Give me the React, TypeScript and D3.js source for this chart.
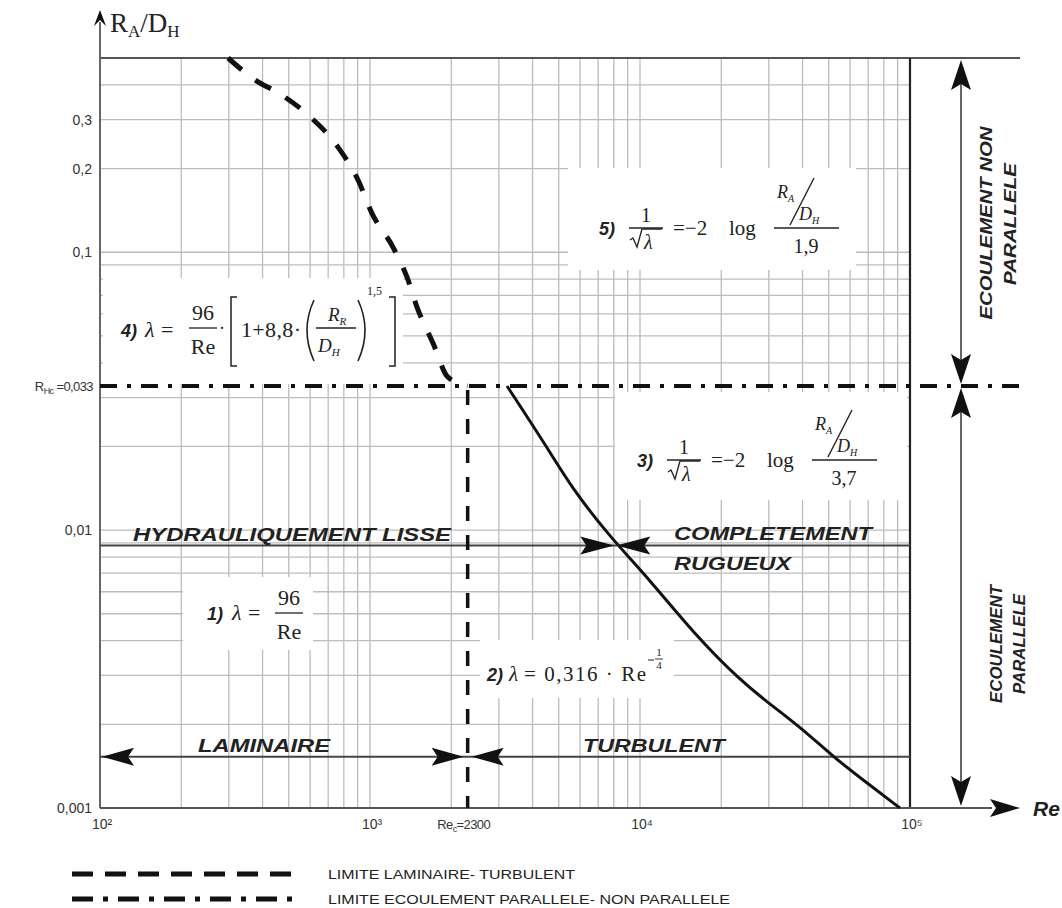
import * as d3 from 'd3'

// axis ticks
const xTickValues = [1e2, 1e3, 1e4, 1e5]
const xTickLabels = ['10²', '10³', '10⁴', '10⁵']
const yTickValues = [0.3, 0.2, 0.1, 0.01, 0.001]
const yTickLabels = ['0,3', '0,2', '0,1', '0,01', '0,001']

// limits
const reCritical = 2300
const rHc = 0.033
const roughLevel = 0.0088
const regimeLevel = 0.00153

// laminar / turbulent limit (dashed curve)
const laminarRe = [298, 385, 452, 589, 761, 903, 1017, 1216, 1371, 1493, 1711, 1944, 2300]
const laminarRa = [0.5, 0.41, 0.377, 0.312, 0.239, 0.182, 0.138, 0.1044, 0.0814, 0.0635, 0.0471, 0.0355, 0.033]

// smooth / rough limit (solid curve)
const roughRe = [3217, 4524, 5551, 7745, 10890, 16260, 23440, 29510, 39140, 51860, 69300, 91800]
const roughRa = [0.033, 0.0199, 0.0143, 0.00944, 0.00661, 0.00412, 0.00289, 0.00241, 0.00196, 0.00153, 0.00123, 0.001]

const W = 1062
const H = 908
const SANS = '"Liberation Sans", Arial, sans-serif'
const SERIF = '"Liberation Serif", "Times New Roman", serif'

const x = d3.scaleLog().domain([1e2, 1e5]).range([100, 910])
const y = d3.scaleLog().domain([0.001, 0.5]).range([808, 58])

function head(tx: number, ty: number, dir: 'up' | 'down' | 'left' | 'right', len = 30, half = 9) {
    let pts: number[][] = []
    if (dir === 'up') pts = [[tx, ty], [tx - half, ty + len], [tx, ty + len - 6], [tx + half, ty + len]]
    if (dir === 'down') pts = [[tx, ty], [tx - half, ty - len], [tx, ty - len + 6], [tx + half, ty - len]]
    if (dir === 'left') pts = [[tx, ty], [tx + len, ty - half], [tx + len - 6, ty], [tx + len, ty + half]]
    if (dir === 'right') pts = [[tx, ty], [tx - len, ty - half], [tx - len + 6, ty], [tx - len, ty + half]]
    return <polygon points={pts.map(p => p.join(',')).join(' ')} fill="#111" />
}

// sqrt(lambda) fraction used in formulas 3 and 5
function InvSqrt({ cx, cy }: { cx: number, cy: number }) {
    return (
        <g fontFamily={SERIF} fontSize={20} fill="#222">
            <text x={cx} y={cy - 6} textAnchor="middle">1</text>
            <line x1={cx - 17} x2={cx + 17} y1={cy} y2={cy} stroke="#222" strokeWidth={1.3} />
            <path d={`M${cx - 16},${cy + 12} l3,-2 l4,9 l5,-18 h20`} fill="none" stroke="#222" strokeWidth={1.3} />
            <text x={cx - 2} y={cy + 21} fontStyle="italic">λ</text>
        </g>
    )
}

function LogFormula({ left, cy, num, denom }: { left: number, cy: number, num: string, denom: string }) {
    return (
        <g fill="#222">
            <text x={left} y={cy + 7} fontFamily={SANS} fontWeight="bold" fontStyle="italic" fontSize={18}>{num}</text>
            <InvSqrt cx={left + 47} cy={cy} />
            <text x={left + 74} y={cy + 7} fontFamily={SERIF} fontSize={21}>=−2</text>
            <text x={left + 130} y={cy + 7} fontFamily={SERIF} fontSize={21}>log</text>
            <text x={left + 178} y={cy - 30} fontFamily={SERIF} fontStyle="italic" fontSize={18}>R<tspan fontSize={10} dy={4}>A</tspan></text>
            <line x1={left + 215} y1={cy - 50} x2={left + 191} y2={cy - 3} stroke="#222" strokeWidth={1.4} />
            <text x={left + 200} y={cy - 8} fontFamily={SERIF} fontStyle="italic" fontSize={18}>D<tspan fontSize={10} dy={4}>H</tspan></text>
            <line x1={left + 175} x2={left + 240} y1={cy} y2={cy} stroke="#222" strokeWidth={1.3} />
            <text x={left + 207} y={cy + 25} textAnchor="middle" fontFamily={SERIF} fontSize={20}>{denom}</text>
        </g>
    )
}

export default function App() {
    const xGrid = x.ticks()
    const yGrid = y.ticks()
    const laminarLine = d3.line<number>().x(d => x(d)).y((_, i) => y(laminarRa[i])).curve(d3.curveMonotoneX)
    const roughLine = d3.line<number>().x(d => x(d)).y((_, i) => y(roughRa[i])).curve(d3.curveBasis)

    const x0 = x.range()[0]
    const x1 = x.range()[1]
    const yTop = y.range()[1]
    const yBot = y.range()[0]
    const xc = x(reCritical)
    const yHc = y(rHc)
    const yRough = y(roughLevel)
    const yReg = y(regimeLevel)
    // where the solid curve crosses the smooth/rough level
    const xCross = x(8100)

    // white boxes behind the formulas (hide the grid there)
    const boxes = [
        [103, 278, 300, 106],
        [183, 577, 130, 73],
        [568, 168, 288, 102],
        [615, 392, 292, 108],
        [480, 640, 194, 58],
    ]

    return (
        <svg width={W} height={H} style={{ position: 'absolute', left: 0, top: 0, background: '#fff' }}>
            {/* grid */}
            <g stroke="#bcbcbc" strokeWidth={1.3}>
                {xGrid.map((d, i) => <line key={'gx' + i} x1={x(d)} x2={x(d)} y1={yTop} y2={yBot} />)}
                {yGrid.map((d, i) => <line key={'gy' + i} x1={x0} x2={x1} y1={y(d)} y2={y(d)} />)}
            </g>
            {boxes.map((b, i) => <rect key={'b' + i} x={b[0]} y={b[1]} width={b[2]} height={b[3]} fill="#fff" />)}

            {/* frame */}
            <line x1={x0} x2={1020} y1={yTop} y2={yTop} stroke="#555" strokeWidth={2} />
            <line x1={x1} x2={x1} y1={yTop} y2={yBot} stroke="#222" strokeWidth={2.2} />
            <line x1={x0} x2={x0} y1={yBot} y2={22} stroke="#666" strokeWidth={2} />
            {head(x0, 10, 'up', 16, 6)}
            <line x1={x0} x2={992} y1={yBot} y2={yBot} stroke="#555" strokeWidth={2} />
            {head(1020, yBot, 'right', 30, 9)}

            {/* smooth / rough level and regime level */}
            <line x1={x0} x2={x1} y1={yRough} y2={yRough} stroke="#444" strokeWidth={2} />
            <line x1={x0} x2={x1} y1={yReg} y2={yReg} stroke="#444" strokeWidth={2} />
            {head(xCross - 1, yRough, 'right', 34, 9)}
            {head(xCross + 1, yRough, 'left', 34, 9)}
            {head(x0 + 2, yReg, 'left', 32, 9)}
            {head(xc - 4, yReg, 'right', 32, 9)}
            {head(xc + 4, yReg, 'left', 32, 9)}

            {/* limits */}
            <line x1={x0} x2={1020} y1={yHc} y2={yHc} stroke="#111" strokeWidth={4} strokeDasharray="17 10 4 10" />
            <line x1={xc} x2={xc} y1={yHc + 4} y2={yBot} stroke="#111" strokeWidth={3.5} strokeDasharray="15 14" />
            <path d={laminarLine(laminarRe) || ''} fill="none" stroke="#111" strokeWidth={5} strokeDasharray="18 17" />
            <path d={roughLine(roughRe) || ''} fill="none" stroke="#111" strokeWidth={3} />

            {/* right annotations */}
            <line x1={961} x2={961} y1={yTop + 20} y2={yHc - 20} stroke="#666" strokeWidth={2} />
            {head(961, yTop + 2, 'up', 30, 10)}
            {head(961, yHc - 2, 'down', 30, 10)}
            <line x1={961} x2={961} y1={yHc + 20} y2={yBot - 20} stroke="#666" strokeWidth={2} />
            {head(961, yHc + 2, 'up', 30, 10)}
            {head(961, yBot - 2, 'down', 30, 10)}
            <g fontFamily={SANS} fontWeight="bold" fontStyle="italic" fontSize={17} fill="#222" textAnchor="middle">
                <text transform="translate(992,223) rotate(-90)" textLength={193} lengthAdjust="spacingAndGlyphs">ECOULEMENT NON</text>
                <text transform="translate(1016,224) rotate(-90)" textLength={122} lengthAdjust="spacingAndGlyphs">PARALLELE</text>
                <text transform="translate(1002,644) rotate(-90)" textLength={118} lengthAdjust="spacingAndGlyphs">ECOULEMENT</text>
                <text transform="translate(1025,644) rotate(-90)" textLength={100} lengthAdjust="spacingAndGlyphs">PARALLELE</text>
            </g>

            {/* region labels */}
            <g fontFamily={SANS} fontWeight="bold" fontStyle="italic" fontSize={19} fill="#222">
                <text x={133} y={541} textLength={318} lengthAdjust="spacingAndGlyphs">HYDRAULIQUEMENT LISSE</text>
                <text x={674} y={540} textLength={198} lengthAdjust="spacingAndGlyphs">COMPLETEMENT</text>
                <text x={674} y={570} textLength={117} lengthAdjust="spacingAndGlyphs">RUGUEUX</text>
                <text x={198} y={752} textLength={132} lengthAdjust="spacingAndGlyphs">LAMINAIRE</text>
                <text x={583} y={752} textLength={142} lengthAdjust="spacingAndGlyphs">TURBULENT</text>
            </g>

            {/* formula 4 */}
            <g fill="#222">
                <text x={121} y={337} fontFamily={SANS} fontWeight="bold" fontStyle="italic" fontSize={18}>4)</text>
                <text x={145} y={337} fontFamily={SERIF} fontStyle="italic" fontSize={22}>λ</text>
                <text x={161} y={337} fontFamily={SERIF} fontSize={22}>=</text>
                <text x={203} y={320} textAnchor="middle" fontFamily={SERIF} fontSize={22}>96</text>
                <line x1={189} x2={217} y1={328} y2={328} stroke="#222" strokeWidth={1.3} />
                <text x={203} y={354} textAnchor="middle" fontFamily={SERIF} fontSize={22}>Re</text>
                <text x={219} y={334} fontFamily={SERIF} fontSize={18}>·</text>
                <path d="M237,297 h-6 v69 h6" fill="none" stroke="#222" strokeWidth={1.5} />
                <text x={241} y={337} fontFamily={SERIF} fontSize={22} textLength={60} lengthAdjust="spacing">1+8,8·</text>
                <path d="M314,300 Q300,330 314,361" fill="none" stroke="#222" strokeWidth={1.6} />
                <text x={328} y={321} fontFamily={SERIF} fontStyle="italic" fontSize={19}>R<tspan fontSize={11} dy={4}>R</tspan></text>
                <line x1={316} x2={356} y1={328} y2={328} stroke="#222" strokeWidth={1.3} />
                <text x={318} y={352} fontFamily={SERIF} fontStyle="italic" fontSize={19}>D<tspan fontSize={11} dy={4}>H</tspan></text>
                <path d="M358,300 Q372,330 358,361" fill="none" stroke="#222" strokeWidth={1.6} />
                <text x={367} y={295} fontFamily={SERIF} fontSize={12}>1,5</text>
                <path d="M389,297 h6 v69 h-6" fill="none" stroke="#222" strokeWidth={1.5} />
            </g>

            {/* formula 1 */}
            <g fill="#222">
                <text x={207} y={620} fontFamily={SANS} fontWeight="bold" fontStyle="italic" fontSize={18}>1)</text>
                <text x={232} y={620} fontFamily={SERIF} fontStyle="italic" fontSize={22}>λ</text>
                <text x={248} y={620} fontFamily={SERIF} fontSize={22}>=</text>
                <text x={289} y={605} textAnchor="middle" fontFamily={SERIF} fontSize={22}>96</text>
                <line x1={275} x2={303} y1={613} y2={613} stroke="#222" strokeWidth={1.3} />
                <text x={289} y={639} textAnchor="middle" fontFamily={SERIF} fontSize={22}>Re</text>
            </g>

            {/* formula 2 */}
            <g fill="#222">
                <text x={487} y={681} fontFamily={SANS} fontWeight="bold" fontStyle="italic" fontSize={18}>2)</text>
                <text x={509} y={681} fontFamily={SERIF} fontStyle="italic" fontSize={21}>λ</text>
                <text x={524} y={681} fontFamily={SERIF} fontSize={21} textLength={122} lengthAdjust="spacing">= 0,316 · Re</text>
                <line x1={648} x2={654} y1={660} y2={660} stroke="#222" strokeWidth={1} />
                <text x={659} y={656} textAnchor="middle" fontFamily={SERIF} fontSize={11}>1</text>
                <line x1={655} x2={663} y1={659} y2={659} stroke="#222" strokeWidth={0.9} />
                <text x={659} y={669} textAnchor="middle" fontFamily={SERIF} fontSize={11}>4</text>
            </g>

            <LogFormula left={599} cy={228} num="5)" denom="1,9" />
            <LogFormula left={637} cy={460} num="3)" denom="3,7" />

            {/* axis labels */}
            <g fontFamily={SANS} fontSize={14} fill="#333" textAnchor="end">
                {yTickValues.map((d, i) => (
                    <text key={'yt' + i} x={92} y={y(d) + 5}>{yTickLabels[i]}</text>
                ))}
                <text x={93} y={yHc + 5} fontSize={13} letterSpacing={-0.6} fill="#333">R<tspan fontSize={9} dy={3} fill="#333">Hc</tspan><tspan dy={-3} fill="#333"> =0,033</tspan></text>
            </g>
            <g fontFamily={SANS} fontSize={14} fill="#333" textAnchor="middle">
                {xTickValues.map((d, i) => (
                    <text key={'xt' + i} x={x(d) + 2} y={829}>{xTickLabels[i]}</text>
                ))}
                <text x={xc - 4} y={829} fontSize={13} letterSpacing={-0.6}>Re<tspan fontSize={9} dy={3}>c</tspan><tspan dy={-3}>=2300</tspan></text>
            </g>
            <text x={110} y={32} fontFamily={SERIF} fontSize={27} fill="#222">R<tspan fontSize={17} dy={5}>A</tspan><tspan dy={-5}>/D</tspan><tspan fontSize={17} dy={5}>H</tspan></text>
            <text x={1033} y={816} fontFamily={SANS} fontWeight="bold" fontStyle="italic" fontSize={21} fill="#222">Re</text>

            {/* legend */}
            <line x1={72} x2={296} y1={874} y2={874} stroke="#111" strokeWidth={5} strokeDasharray="21 12" />
            <line x1={72} x2={296} y1={899} y2={899} stroke="#111" strokeWidth={5} strokeDasharray="21 10 5 10" />
            <g fontFamily={SANS} fontSize={13} fill="#222">
                <text x={328} y={879} textLength={247} lengthAdjust="spacingAndGlyphs">LIMITE LAMINAIRE- TURBULENT</text>
                <text x={328} y={904} textLength={402} lengthAdjust="spacingAndGlyphs">LIMITE ECOULEMENT PARALLELE- NON PARALLELE</text>
            </g>
        </svg>
    )
}
